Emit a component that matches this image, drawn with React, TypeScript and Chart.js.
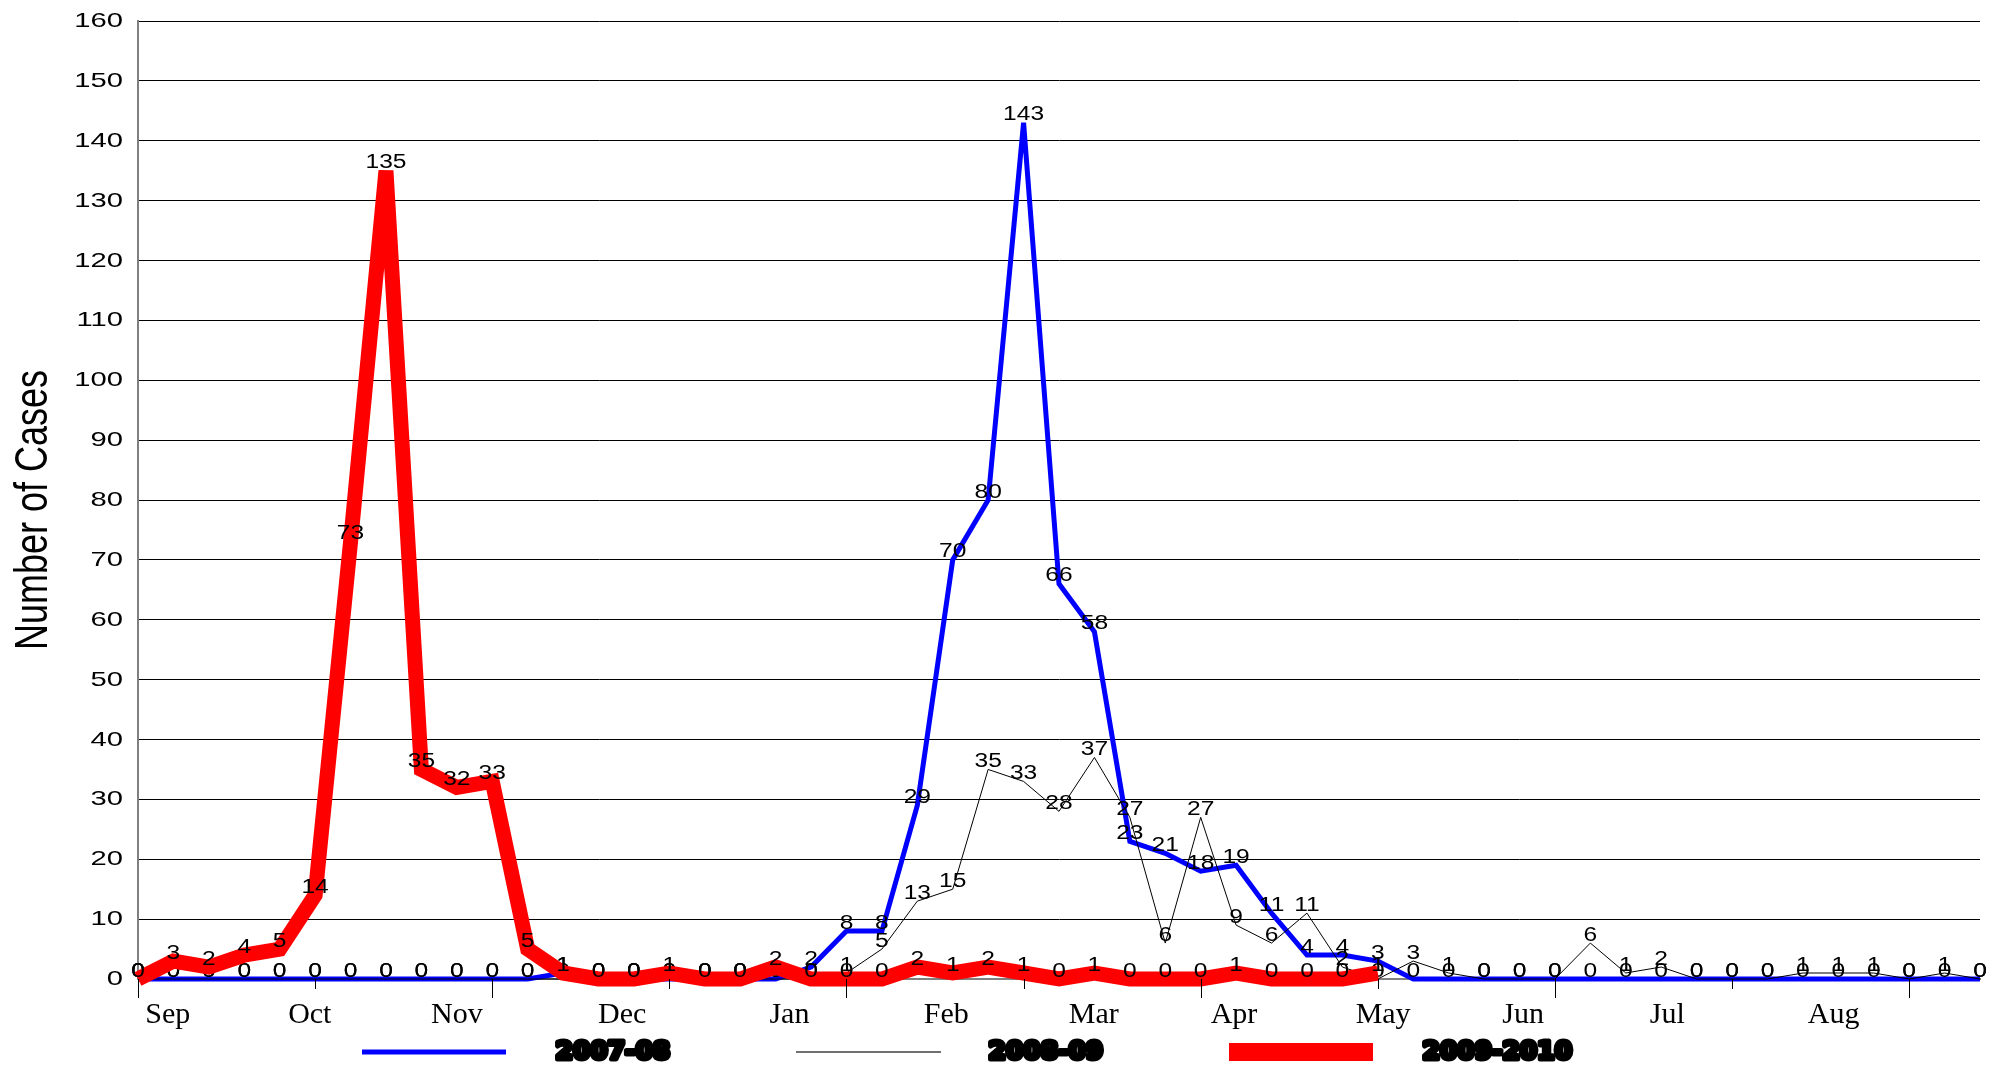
import React, { useEffect, useRef } from "react";
import { Chart, registerables } from "chart.js";

Chart.register(...registerables);

// ---- Data ----
const weekIndex = [
  0, 1, 2, 3, 4, 5, 6, 7, 8, 9, 10, 11, 12, 13, 14, 15, 16, 17, 18, 19, 20,
  21, 22, 23, 24, 25, 26, 27, 28, 29, 30, 31, 32, 33, 34, 35, 36, 37, 38, 39,
  40, 41, 42, 43, 44, 45, 46, 47, 48, 49, 50, 51, 52,
];

const seriesNames = ["2007-08", "2008-09", "2009-2010"];

const cases0708 = [
  0, 0, 0, 0, 0, 0, 0, 0, 0, 0, 0, 0, 1, 0, 0, 0, 0, 0, 0, 2, 8, 8, 29, 70,
  80, 143, 66, 58, 23, 21, 18, 19, 11, 4, 4, 3, 0, 0, 0, 0, 0, 0, 0, 0, 0, 0,
  0, 0, 0, 0, 0, 0, 0,
];

const cases0809 = [
  0, 0, 0, 0, 0, 0, 0, 0, 0, 0, 0, 0, 0, 0, 0, 0, 0, 0, 0, 0, 1, 5, 13, 15,
  35, 33, 28, 37, 27, 6, 27, 9, 6, 11, 2, 0, 3, 1, 0, 0, 0, 6, 1, 2, 0, 0, 0,
  1, 1, 1, 0, 1, 0,
];

const cases0910 = [
  0, 3, 2, 4, 5, 14, 73, 135, 35, 32, 33, 5, 1, 0, 0, 1, 0, 0, 2, 0, 0, 0, 2,
  1, 2, 1, 0, 1, 0, 0, 0, 1, 0, 0, 0, 1,
];

const monthNames = ["Sep", "Oct", "Nov", "Dec", "Jan", "Feb", "Mar", "Apr", "May", "Jun", "Jul", "Aug"];
const monthLabelPositions = [0.84, 4.85, 9.0, 13.67, 18.39, 22.82, 26.98, 30.94, 35.15, 39.1, 43.17, 47.87];

const yTickValues = [0, 10, 20, 30, 40, 50, 60, 70, 80, 90, 100, 110, 120, 130, 140, 150, 160];
const xTickMarkValues = [0, 5, 10, 15, 20, 25, 30, 35, 40, 45, 50];

const yAxisTitle = "Number of Cases";

// ---- Helpers / plugins ----
const toPoints = (values: number[]) => values.map((v, i) => ({ x: weekIndex[i], y: v }));

const pointLabelPlugin = {
  id: "pointLabels",
  afterDatasetDraw(chart: any, args: any) {
    const ctx = chart.ctx;
    const ds = chart.data.datasets[args.index];
    const meta = args.meta;
    ctx.save();
    ctx.font = '19.5px "Liberation Sans", Arial, sans-serif';
    ctx.fillStyle = "#000";
    ctx.textAlign = "center";
    ctx.textBaseline = "alphabetic";
    meta.data.forEach((el: any, i: number) => {
      const v = ds.data[i].y;
      ctx.save();
      ctx.translate(el.x, el.y - 2.5);
      ctx.scale(1.26, 1);
      ctx.fillText(String(v), 0, 0);
      ctx.restore();
    });
    ctx.restore();
  },
};

const decorPlugin = {
  id: "decor",
  afterDraw(chart: any) {
    const ctx = chart.ctx;
    const area = chart.chartArea;
    const xs = chart.scales.x;
    const ys = chart.scales.y;

    // x tick marks (long at multiples of 10, short otherwise)
    ctx.save();
    ctx.strokeStyle = "#000";
    ctx.lineWidth = 1;
    xTickMarkValues.forEach((v) => {
      const x = Math.round(xs.getPixelForValue(v)) + 0.5;
      const len = v % 10 === 0 ? 19 : 10;
      ctx.beginPath();
      ctx.moveTo(x, area.bottom);
      ctx.lineTo(x, area.bottom + len);
      ctx.stroke();
    });
    ctx.restore();

    // y tick labels (wide sans)
    ctx.save();
    ctx.font = '21px "Liberation Sans", Arial, sans-serif';
    ctx.fillStyle = "#000";
    ctx.textAlign = "right";
    ctx.textBaseline = "alphabetic";
    yTickValues.forEach((v) => {
      const y = ys.getPixelForValue(v);
      ctx.save();
      ctx.translate(area.left - 15, y + 6);
      ctx.scale(1.39, 1);
      ctx.fillText(String(v), 0, 0);
      ctx.restore();
    });
    ctx.restore();

    // month labels (serif)
    ctx.save();
    ctx.font = '30px "Liberation Serif", "Times New Roman", serif';
    ctx.fillStyle = "#000";
    ctx.textAlign = "center";
    ctx.textBaseline = "alphabetic";
    monthNames.forEach((m, i) => {
      ctx.fillText(m, xs.getPixelForValue(monthLabelPositions[i]), area.bottom + 44);
    });
    ctx.restore();

    // y axis title (rotated, condensed)
    ctx.save();
    ctx.font = '47px "Liberation Sans", Arial, sans-serif';
    ctx.fillStyle = "#000";
    ctx.textAlign = "center";
    ctx.textBaseline = "middle";
    const w = ctx.measureText(yAxisTitle).width;
    ctx.translate(34, (area.top + area.bottom) / 2 + 10);
    ctx.rotate(-Math.PI / 2);
    ctx.scale(280 / w, 1);
    ctx.fillText(yAxisTitle, 0, 0);
    ctx.restore();

    // legend
    const legendY = area.bottom + 73;
    const items = [
      { lineFrom: 362, lineTo: 506, textX: 553, color: "#0000FF", width: 5 },
      { lineFrom: 796, lineTo: 941, textX: 986, color: "#707070", width: 2 },
      { lineFrom: 1229, lineTo: 1373, textX: 1420, color: "#FF0000", width: 18 },
    ];
    items.forEach((it, i) => {
      ctx.save();
      ctx.strokeStyle = it.color;
      ctx.lineWidth = it.width;
      ctx.beginPath();
      ctx.moveTo(it.lineFrom, legendY);
      ctx.lineTo(it.lineTo, legendY);
      ctx.stroke();
      ctx.font = 'bold 25px "DejaVu Sans", Arial, sans-serif';
      ctx.textAlign = "left";
      ctx.textBaseline = "middle";
      ctx.lineJoin = "round";
      ctx.lineWidth = 5;
      ctx.strokeStyle = "#000";
      ctx.fillStyle = "#000";
      ctx.strokeText(seriesNames[i], it.textX + 2.5, legendY);
      ctx.fillText(seriesNames[i], it.textX + 2.5, legendY);
      ctx.restore();
    });
  },
};

export default function App() {
  const canvasRef = useRef<HTMLCanvasElement | null>(null);

  useEffect(() => {
    const canvas = canvasRef.current;
    if (!canvas) return;
    const chart = new Chart(canvas, {
      type: "line",
      data: {
        datasets: [
          {
            label: seriesNames[0],
            data: toPoints(cases0708),
            borderColor: "#0000FF",
            backgroundColor: "#0000FF",
            borderWidth: 5,
            pointRadius: 0,
            order: 3,
            clip: false as any,
          },
          {
            label: seriesNames[1],
            data: toPoints(cases0809),
            borderColor: "#000000",
            backgroundColor: "#000000",
            borderWidth: 1,
            pointRadius: 0,
            order: 2,
            clip: false as any,
          },
          {
            label: seriesNames[2],
            data: toPoints(cases0910),
            borderColor: "#FF0000",
            backgroundColor: "#FF0000",
            borderWidth: 15,
            pointRadius: 0,
            order: 1,
            clip: false as any,
          },
        ],
      },
      options: {
        animation: false,
        responsive: false,
        maintainAspectRatio: false,
        events: [],
        layout: { padding: { top: 21, right: 13, left: 0, bottom: 0 } },
        plugins: {
          legend: { display: false },
          tooltip: { enabled: false },
          title: { display: false },
        },
        elements: { line: { tension: 0 } },
        scales: {
          x: {
            type: "linear",
            min: 0,
            max: 52,
            afterBuildTicks: (s: any) => {
              s.ticks = xTickMarkValues.map((v) => ({ value: v }));
            },
            ticks: { display: false },
            grid: { display: false },
            border: { display: true, color: "#808080", width: 2 },
            afterFit: (s: any) => {
              s.height = 89;
            },
          },
          y: {
            type: "linear",
            min: 0,
            max: 160,
            afterBuildTicks: (s: any) => {
              s.ticks = yTickValues.map((v) => ({ value: v }));
            },
            ticks: { display: false },
            grid: {
              color: (c: any) => (c.tick && c.tick.value === 0 ? "rgba(0,0,0,0)" : "#000000"),
              lineWidth: 1,
              drawTicks: false,
            },
            border: { display: true, color: "#808080", width: 2 },
            afterFit: (s: any) => {
              s.width = 138;
            },
          },
        },
      },
      plugins: [pointLabelPlugin, decorPlugin],
    });
    return () => chart.destroy();
  }, []);

  return (
    <div style={{ position: "absolute", left: 0, top: 0, width: 1993, height: 1068, background: "#fff" }}>
      <canvas ref={canvasRef} width={1993} height={1068} style={{ display: "block" }} />
    </div>
  );
}
